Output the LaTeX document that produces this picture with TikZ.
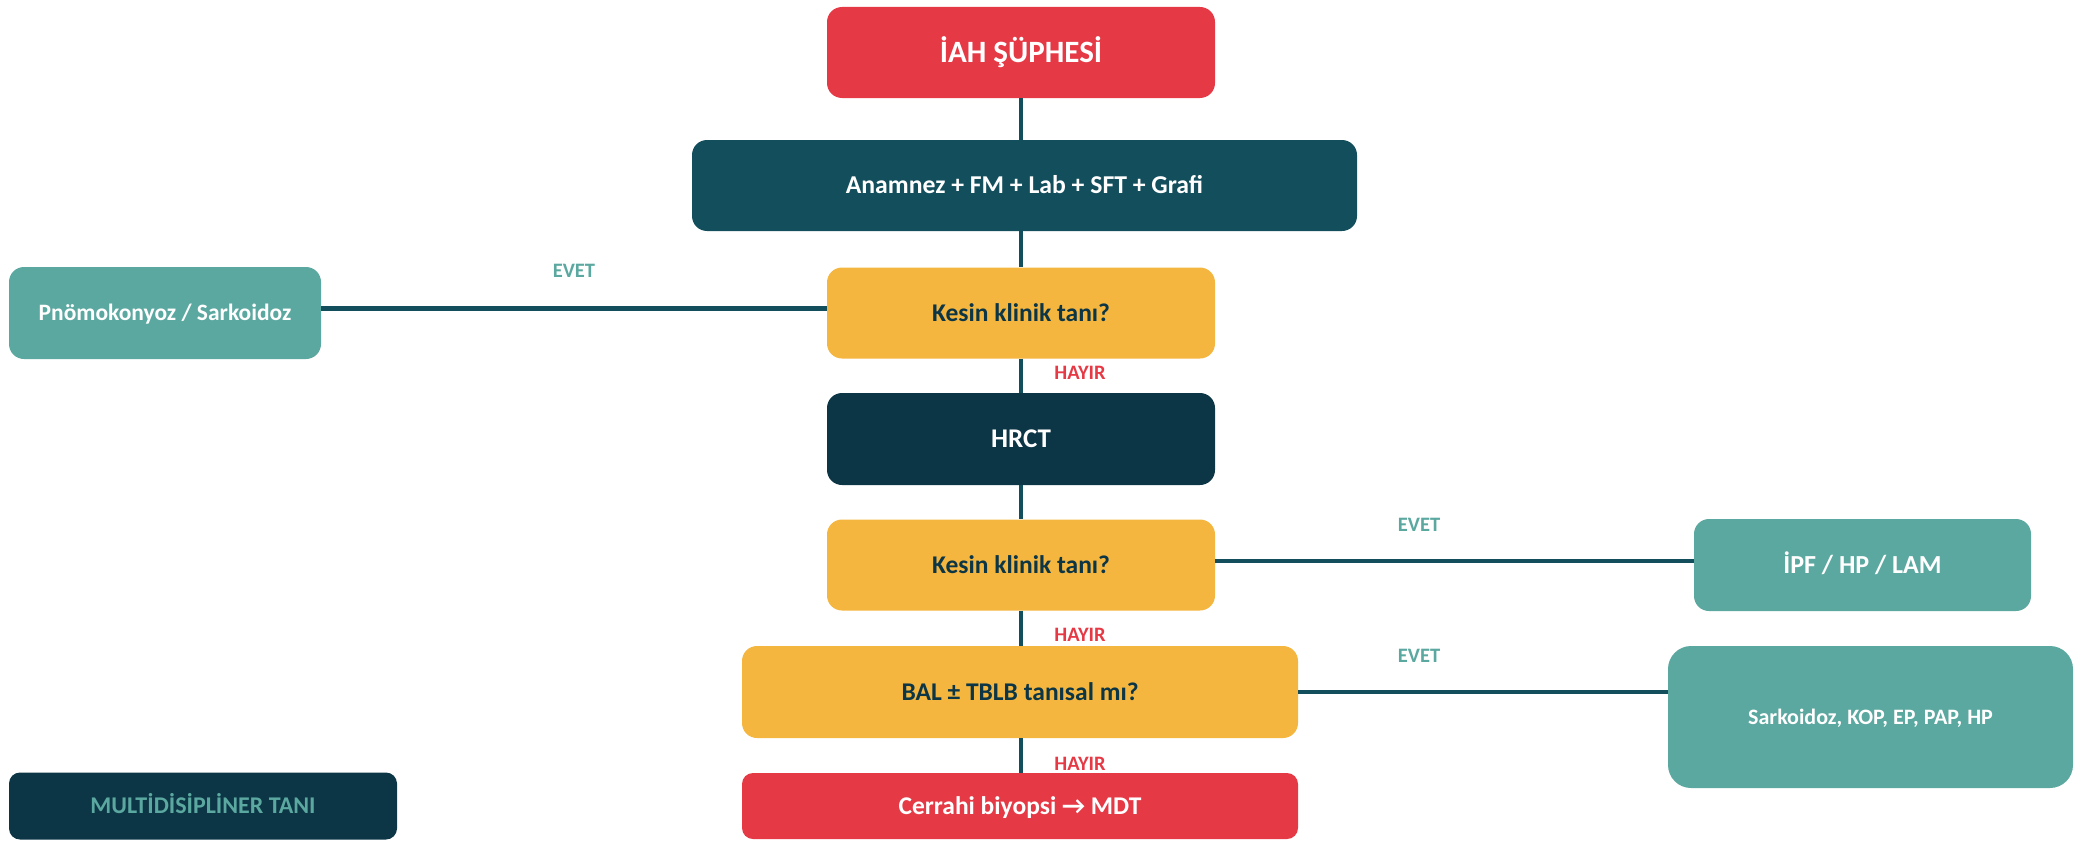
\documentclass[tikz,border=0pt]{standalone}
\usepackage{fontspec}
\setmainfont{Carlito}
\usetikzlibrary{calc}
\definecolor{cred}{HTML}{E63946}
\definecolor{cyel}{HTML}{F4B63F}
\definecolor{cteal}{HTML}{5BA8A0}
\definecolor{cdark}{HTML}{0C3545}
\definecolor{cmid}{HTML}{124E5C}
\newcommand{\fs}[1]{\fontsize{#1}{#1}\selectfont}
\begin{document}
\begin{tikzpicture}[x=1pt,y=-1pt,
  sz/.code={\pgfmathsetmacro\myth{0.64*#1}\edef\mynext{\noexpand\tikzset{font=\noexpand\bfseries\noexpand\fs{#1}, text height=\myth pt, text depth=0pt}}\mynext},
  box/.style={rectangle, inner sep=0pt, align=center, text=white},
  redbox/.style={box, fill=cred},
  yelbox/.style={box, fill=cyel, text=cdark},
  tealbox/.style={box, fill=cteal},
  darkbox/.style={box, fill=cdark},
  midbox/.style={box, fill=cmid},
  lab/.style={inner sep=0pt, sz=20.5},
  yeslab/.style={lab, text=cteal},
  nolab/.style={lab, text=cred},
  conn/.style={draw=cmid, line width=4.6pt}]
\useasboundingbox (0,0) rectangle (2096,843);

\node[redbox, minimum width=388pt, minimum height=91pt, rounded corners=15pt, sz=31] (t) at (1021,52.5) {İAH ŞÜPHESİ};
\node[midbox, minimum width=665pt, minimum height=91pt, rounded corners=15pt, sz=25.7] (a) at (1024.5,185.5) {Anamnez + FM + Lab + SFT + Grafi};
\node[tealbox, minimum width=312pt, minimum height=92pt, rounded corners=15pt, sz=23.5] (p) at (165,313) {Pnömokonyoz / Sarkoidoz};
\node[yelbox, minimum width=388pt, minimum height=91pt, rounded corners=15pt, sz=25.5] (k1) at (1021,313) {Kesin klinik tanı?};
\node[darkbox, minimum width=388pt, minimum height=92pt, rounded corners=15pt, sz=27] (h) at (1021,439) {HRCT};
\node[yelbox, minimum width=388pt, minimum height=91pt, rounded corners=15pt, sz=25.5] (k2) at (1021,565) {Kesin klinik tanı?};
\node[tealbox, minimum width=337pt, minimum height=92pt, rounded corners=15pt, sz=26] (ipf) at (1862.5,565) {İPF / HP / LAM};
\node[yelbox, minimum width=556pt, minimum height=92pt, rounded corners=15pt, sz=25.5] (bal) at (1020,692) {BAL ± TBLB tanısal mı?};
\node[tealbox, minimum width=405pt, minimum height=142pt, rounded corners=23pt, sz=22] (s) at (1870.5,717) {Sarkoidoz, KOP, EP, PAP, HP};
\node[redbox, minimum width=556pt, minimum height=66pt, rounded corners=11pt, sz=25.5] (c) at (1020,806) {Cerrahi biyopsi → MDT};
\node[darkbox, text=cteal, minimum width=388pt, minimum height=67pt, rounded corners=11pt, sz=24] (m) at (203,806) {MULTİDİSİPLİNER TANI};

\draw[conn] (t.south) -- (t.south |- a.north);
\draw[conn] (t.south |- a.south) -- (k1.north);
\draw[conn] (k1.south) -- (h.north);
\draw[conn] (h.south) -- (k2.north);
\draw[conn] (k2.south) -- (k2.south |- bal.north);
\draw[conn] (k2.south |- bal.south) -- (k2.south |- c.north);
\draw[conn] ([yshift=4.5pt]k1.west) -- ([yshift=4.5pt]k1.west -| p.east);
\draw[conn] ([yshift=4pt]k2.east) -- ([yshift=4pt]k2.east -| ipf.west);
\draw[conn] (bal.east) -- (bal.east -| s.west);

\node[yeslab] (e1) at (574,271) {EVET};
\node[yeslab] (e2) at (1419,524.5) {EVET};
\node[yeslab] (e3) at (1419,655.5) {EVET};
\node[nolab] (n1) at (1080,372.5) {HAYIR};
\node[nolab] (n2) at (1080,634.5) {HAYIR};
\node[nolab] (n3) at (1080,764) {HAYIR};
\end{tikzpicture}
\end{document}
